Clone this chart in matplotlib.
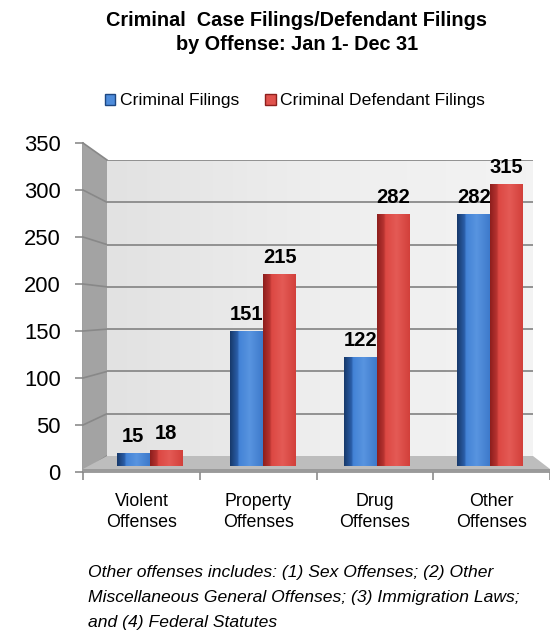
import matplotlib
matplotlib.use("Agg")
import matplotlib.pyplot as plt
import numpy as np
from matplotlib.patches import Polygon, Patch
from matplotlib.lines import Line2D
from matplotlib.colors import LinearSegmentedColormap

# filings by offense category
categories = ["Violent\nOffenses", "Property\nOffenses", "Drug\nOffenses", "Other\nOffenses"]
criminal_filings = [15, 151, 122, 282]
defendant_filings = [18, 215, 282, 315]
series_names = ["Criminal Filings", "Criminal Defendant Filings"]
y_ticks = [0, 50, 100, 150, 200, 250, 300, 350]

title = "Criminal  Case Filings/Defendant Filings\nby Offense: Jan 1- Dec 31"
footnote = [
    "Other offenses includes: (1) Sex Offenses; (2) Other",
    "Miscellaneous General Offenses; (3) Immigration Laws;",
    "and (4) Federal Statutes",
]

W, H = 550, 631
plt.rcParams["font.family"] = ["Liberation Sans", "DejaVu Sans"]


def box(x0, y0, x1, y1):
    """pixel box (top-left origin) -> figure fraction rect"""
    return [x0 / W, 1 - y1 / H, (x1 - x0) / W, (y1 - y0) / H]


fig = plt.figure(figsize=(W / 100, H / 100), dpi=100)

# front axis frame: ticks and labels
ax_frame = fig.add_axes(box(83, 143, 550, 472), zorder=0)
# back wall with gridlines
ax_wall = fig.add_axes(box(107, 160, 533, 456), zorder=1)
# bars sit half way into the floor depth
ax_bar = fig.add_axes(box(93, 153, 547, 466), zorder=3)

ymax = y_ticks[-1]
n = len(categories)
x = np.arange(n)

ax_frame.set_xlim(-0.5, n - 0.5)
ax_frame.set_ylim(0, ymax)
ax_frame.set_facecolor("none")
for s in ["top", "right"]:
    ax_frame.spines[s].set_visible(False)
for s in ["left", "bottom"]:
    ax_frame.spines[s].set_color("#8c8c8c")
    ax_frame.spines[s].set_linewidth(1.2)
ax_frame.set_yticks(y_ticks)
ax_frame.set_yticklabels([str(t) for t in y_ticks], fontsize=15.8)
ax_frame.set_xticks(np.arange(-0.5, n, 1.0))
ax_frame.set_xticklabels([])
ax_frame.set_xticks(x, minor=True)
ax_frame.set_xticklabels(categories, minor=True, fontsize=12.8, linespacing=1.3)
ax_frame.tick_params(axis="both", which="major", color="#8c8c8c", length=6, width=1.2)
ax_frame.tick_params(axis="y", pad=10)
ax_frame.tick_params(axis="x", which="minor", length=0, pad=15)

# back wall
ax_wall.set_xlim(0, 1)
ax_wall.set_ylim(0, ymax)
ax_wall.set_xticks([])
ax_wall.set_yticks([])
for s in ax_wall.spines.values():
    s.set_visible(False)
wall_cmap = LinearSegmentedColormap.from_list("wall", ["#e2e2e2", "#eeeeee", "#f3f3f3"])
ax_wall.imshow(np.linspace(0, 1, 64).reshape(1, -1), cmap=wall_cmap, extent=[0, 1, 0, ymax],
               aspect="auto", zorder=0)
for t in y_ticks[1:]:
    ax_wall.axhline(t, color="#8a8a8a", lw=1.3, zorder=1)

# side wall, floor and slanted gridlines, from the frame/wall corners
fp = ax_frame.get_position()
wp = ax_wall.get_position()
side = Polygon([(fp.x0, fp.y1), (wp.x0, wp.y1), (wp.x0, wp.y0), (fp.x0, fp.y0)],
               closed=True, transform=fig.transFigure, facecolor="#a3a3a3",
               edgecolor="none", zorder=0.5)
fig.add_artist(side)
for t in y_ticks:
    yf = fp.y0 + fp.height * t / ymax
    yw = wp.y0 + wp.height * t / ymax
    fig.add_artist(Line2D([fp.x0, wp.x0], [yf, yw], transform=fig.transFigure,
                          color="#888888", lw=1.2, zorder=0.6))
edge = 3.0 / H
floor = Polygon([(wp.x0, wp.y0), (wp.x1, wp.y0), (fp.x1, fp.y0 + edge), (fp.x0, fp.y0 + edge)],
                closed=True, transform=fig.transFigure, facecolor="#bdbdbd",
                edgecolor="none", zorder=2)
fig.add_artist(floor)
floor_edge = Polygon([(fp.x0, fp.y0 + edge), (fp.x1, fp.y0 + edge), (fp.x1, fp.y0), (fp.x0, fp.y0)],
                     closed=True, transform=fig.transFigure, facecolor="#9a9a9a",
                     edgecolor="none", zorder=2)
fig.add_artist(floor_edge)

# bars with a shaded side face
ax_bar.set_facecolor("none")
ax_bar.axis("off")
blue_cmap = LinearSegmentedColormap.from_list(
    "blue", [(0, "#17396b"), (0.22, "#2a5ea8"), (0.28, "#4383d6"), (0.6, "#5894e0"), (1, "#3e7acb")])
red_cmap = LinearSegmentedColormap.from_list(
    "red", [(0, "#8e1f1d"), (0.2, "#b73330"), (0.26, "#dc4843"), (0.6, "#e45a55"), (1, "#d2403b")])
bw = 0.29
grad = np.linspace(0, 1, 64).reshape(1, -1)
for vals, off, cmap in [(criminal_filings, -bw / 2, blue_cmap),
                        (defendant_filings, bw / 2, red_cmap)]:
    rects = ax_bar.bar(x + off, vals, width=bw, color=cmap(0.5), linewidth=0)
    for r, v in zip(rects, vals):
        im = ax_bar.imshow(grad, cmap=cmap, aspect="auto", zorder=2,
                           extent=[r.get_x(), r.get_x() + r.get_width(), 0, r.get_height()])
        im.set_clip_path(r)
        ax_bar.annotate(str(v), (r.get_x() + r.get_width() / 2, v), xytext=(0, 5),
                        textcoords="offset points", ha="center", va="bottom",
                        fontsize=14.5, fontweight="bold", zorder=4)
ax_bar.set_xlim(-0.5, n - 0.5)
ax_bar.set_ylim(0, ymax)

# legend
handles = [Patch(facecolor=blue_cmap(0.45), edgecolor="#1d4782", label=series_names[0]),
           Patch(facecolor=red_cmap(0.45), edgecolor="#8e1f1d", label=series_names[1])]
fig.legend(handles=handles, loc="center", bbox_to_anchor=(295 / W, 1 - 101 / H), ncol=2,
           frameon=False, fontsize=12.6, handlelength=0.6, handleheight=0.6,
           handletextpad=0.25, columnspacing=1.5)

fig.text(297 / W, 1 - 32.5 / H, title, ha="center", va="center", fontsize=14.3,
         fontweight="bold", linespacing=1.4)

for i, line in enumerate(footnote):
    fig.text(88 / W, 1 - (573 + 24.5 * i) / H, line, ha="left", va="center",
             fontsize=12.6, style="italic")

fig.savefig("out.png", dpi=100)
